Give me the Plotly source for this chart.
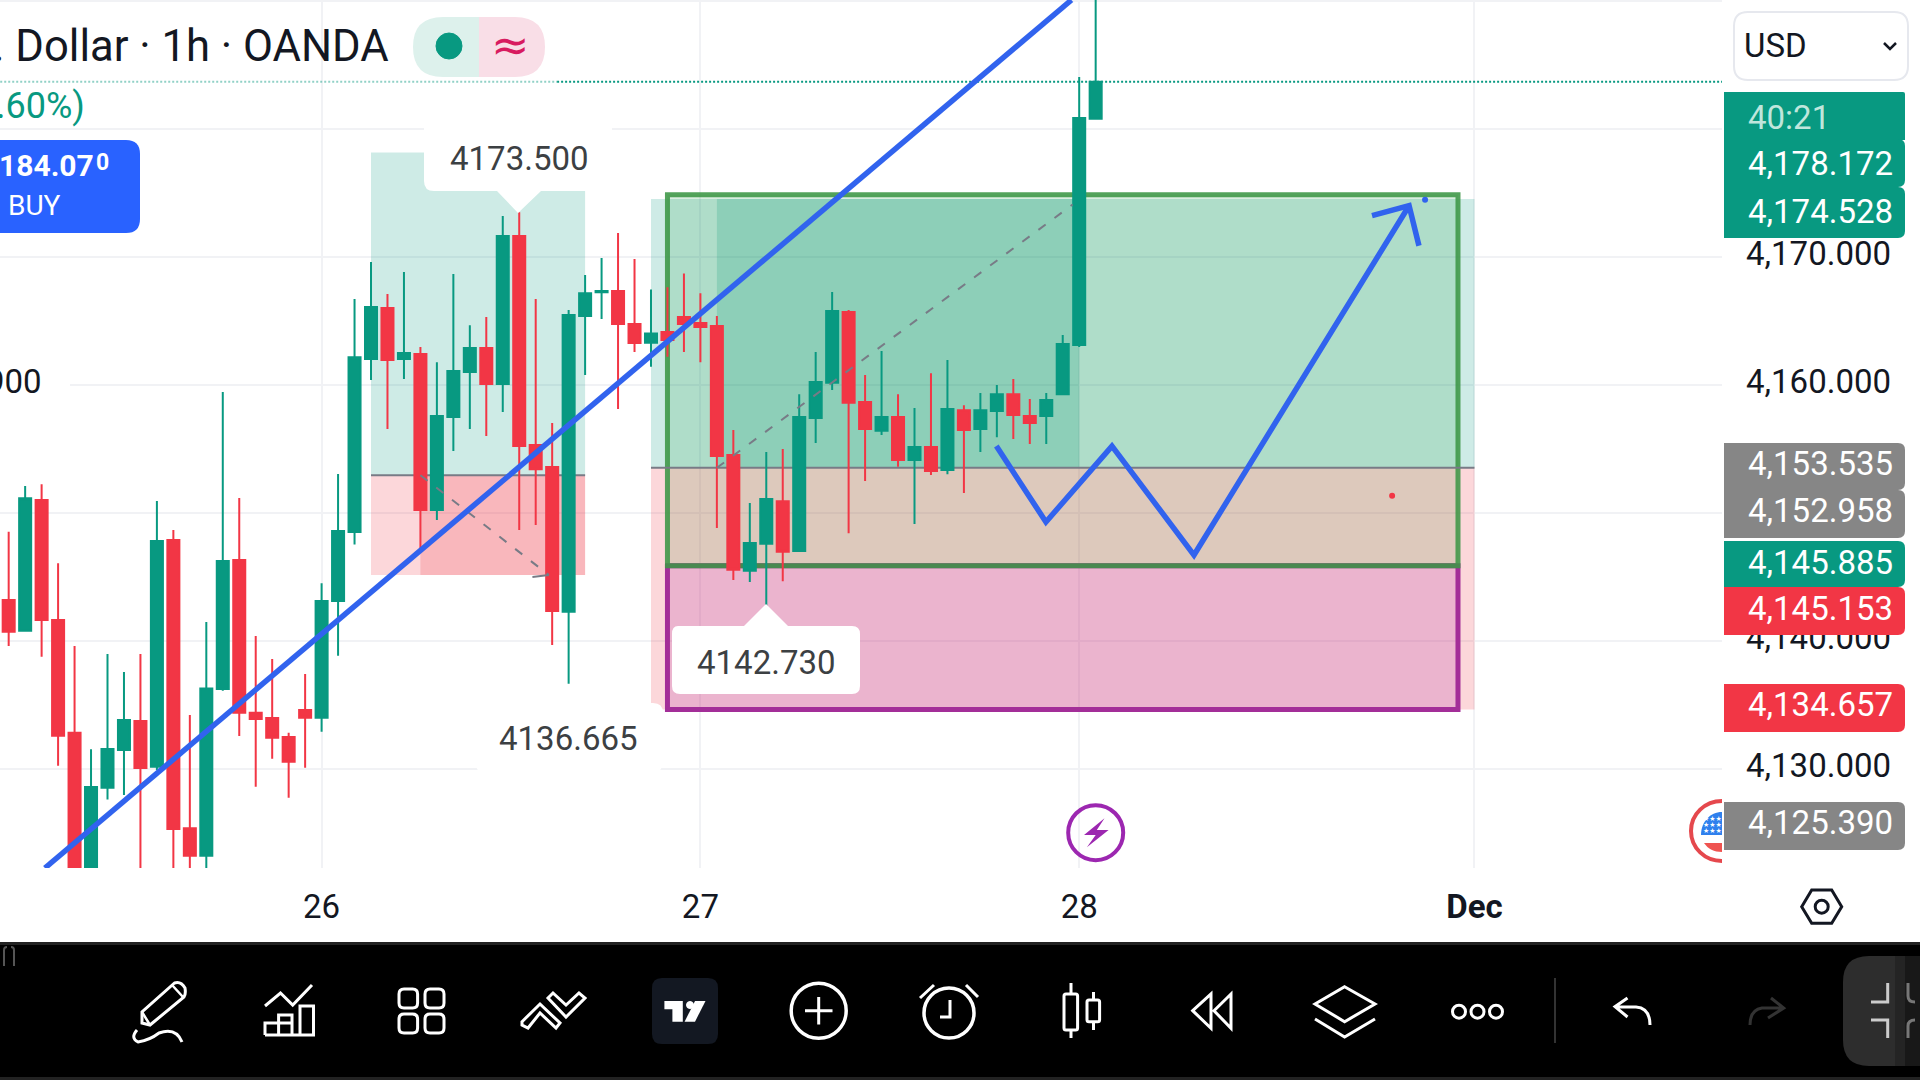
import plotly.graph_objects as go

# Hourly candles, one per trading slot; slot 0 is the session that opens the 26th
slots = list(range(-19, 48))
opens = [4143.21, 4140.81, 4151.02, 4141.64, 4132.84, 4120.00, 4128.54, 4131.49, 4133.75, 4130.18,
         4147.89, 4125.37, 4123.23, 4136.25, 4146.33, 4134.40, 4133.99, 4132.50, 4134.61, 4134.01,
         4143.13, 4148.51, 4162.03, 4166.01, 4162.03, 4162.42, 4150.23, 4157.50, 4161.01, 4162.89,
         4160.08, 4171.64, 4155.31, 4153.60, 4142.29, 4165.39, 4167.24, 4167.34, 4164.76, 4163.30,
         4164.14, 4165.31, 4164.84, 4164.61, 4154.53, 4145.49, 4147.60, 4150.93, 4147.03, 4157.42,
         4160.18, 4165.70, 4158.67, 4156.43, 4157.50, 4154.14, 4155.15, 4153.36, 4158.04, 4156.56,
         4157.97, 4159.29, 4157.58, 4157.58, 4159.29, 4163.13, 4180.80]
highs = [4148.54, 4152.11, 4152.24, 4146.07, 4139.61, 4131.54, 4138.99, 4137.58, 4138.99, 4150.94,
         4148.67, 4134.22, 4141.49, 4159.45, 4151.17, 4140.39, 4138.60, 4132.84, 4137.42, 4144.51,
         4153.05, 4166.72, 4169.61, 4167.11, 4168.83, 4162.97, 4161.79, 4168.67, 4164.68, 4165.31,
         4173.20, 4173.50, 4166.72, 4157.03, 4165.86, 4168.59, 4169.92, 4171.87, 4169.84, 4167.47,
         4167.63, 4168.72, 4167.18, 4165.39, 4156.48, 4150.78, 4154.76, 4155.00, 4159.29, 4162.58,
         4167.26, 4165.86, 4160.78, 4162.65, 4159.29, 4158.20, 4160.93, 4161.95, 4158.43, 4159.37,
         4160.00, 4160.47, 4158.90, 4159.37, 4163.90, 4184.06, 4192.00]
lows = [4139.61, 4140.81, 4138.78, 4130.26, 4119.00, 4119.00, 4127.63, 4127.97, 4119.00, 4129.92,
        4119.00, 4119.00, 4119.00, 4136.12, 4132.58, 4128.62, 4130.81, 4127.76, 4130.11, 4132.92,
        4138.86, 4147.55, 4160.39, 4156.56, 4160.47, 4147.24, 4149.45, 4154.84, 4156.56, 4156.01,
        4157.89, 4148.67, 4149.06, 4139.69, 4136.665, 4160.78, 4165.15, 4158.12, 4162.58, 4161.43,
        4162.21, 4162.58, 4161.79, 4148.83, 4144.76, 4144.61, 4142.73, 4144.68, 4146.95, 4155.47,
        4159.61, 4148.43, 4152.50, 4156.09, 4153.62, 4149.14, 4152.97, 4153.04, 4151.56, 4154.76,
        4155.93, 4155.78, 4155.39, 4155.39, 4159.29, 4162.97, 4180.80]
closes = [4140.73, 4151.15, 4141.64, 4132.61, 4120.00, 4128.60, 4131.56, 4133.83, 4130.08, 4147.81,
          4125.31, 4123.23, 4136.30, 4146.25, 4134.40, 4133.91, 4132.45, 4130.57, 4134.01, 4143.13,
          4148.60, 4162.18, 4166.09, 4161.95, 4162.50, 4150.23, 4157.58, 4161.09, 4162.89, 4160.08,
          4171.64, 4155.23, 4153.43, 4142.35, 4165.47, 4167.18, 4167.34, 4164.76, 4163.28, 4164.03,
          4163.51, 4164.76, 4164.53, 4154.45, 4145.57, 4147.65, 4151.09, 4146.98, 4157.50, 4160.23,
          4165.78, 4158.62, 4156.56, 4157.50, 4154.14, 4155.15, 4153.28, 4158.12, 4156.48, 4158.04,
          4159.29, 4157.65, 4157.03, 4158.83, 4163.20, 4180.86, 4183.70]

day_ticks = [0, 23, 46, 70]
day_labels = ["26", "27", "28", "<b>Dec</b>"]
price_ticks = [4190, 4180, 4170, 4160, 4150, 4140, 4130]
price_labels = ["", "4,180.000", "4,170.000", "4,160.000", "4,150.000", "4,140.000", "4,130.000"]

last_price = 4183.70

# Long-position tools: [left slot, right slot, top, entry, stop]
position_a = [3, 16, 4178.172, 4152.958, 4145.153]
position_b = [20, 70, 4174.528, 4153.535, 4134.657]
position_a_fill_from = 6
position_b_fill_from, position_b_fill_to = 24, 46

# Hand-drawn boxes: [left slot, right slot, top, bottom]
target_box = [21, 69, 4174.87, 4145.885]
stop_box = [21, 69, 4145.885, 4134.657]

trend_x = [-16.8, 45.53]
trend_y = [4122.27, 4190.08]
zigzag_x = [40.97, 43.98, 47.99, 52.97, 66.03]
zigzag_y = [4155.23, 4149.30, 4155.23, 4146.72, 4174.01]
arrow_x = [63.78, 66.03, 66.63]
arrow_y = [4173.23, 4174.01, 4170.88]
dash_a_x = [6, 13.8]
dash_a_y = [4152.958, 4145.153]
dash_a_head_x = [12.8, 13.8]
dash_a_head_y = [4145.0, 4145.153]
dash_b_x = [24, 45.6]
dash_b_y = [4153.535, 4174.1]

# Price tags on the right scale: (text, fill, top px, bottom px, text centre px)
tag_text = ["4,178.172", "4,174.528", "4,153.535", "4,152.958", "4,145.885", "4,145.153", "4,134.657", "4,125.390"]
tag_fill = ["#089981", "#089981", "#868686", "#868686", "#089981", "#F23645", "#F23645", "#868686"]
tag_top = [139, 187, 443, 490, 541, 587, 684, 802]
tag_bottom = [187, 238, 490, 538, 587, 635, 732, 850]
tag_mid = [163, 211, 463, 510, 562, 608, 704, 822]

GREEN = "#089981"
RED = "#F23645"
BLUE = "#3163EE"
INK = "#131722"
LABEL = "#3C4043"
GRID = "#F1F2F5"


def rounded(x0, y0, x1, y1, r, corners="tl tr br bl"):
    """Rounded rectangle as an SVG path in screen pixels."""
    c = corners.split()
    rtl = r if "tl" in c else 0
    rtr = r if "tr" in c else 0
    rbr = r if "br" in c else 0
    rbl = r if "bl" in c else 0
    return (f"M{x0 + rtl},{y0} L{x1 - rtr},{y0} Q{x1},{y0} {x1},{y0 + rtr} "
            f"L{x1},{y1 - rbr} Q{x1},{y1} {x1 - rbr},{y1} L{x0 + rbl},{y1} "
            f"Q{x0},{y1} {x0},{y1 - rbl} L{x0},{y0 + rtl} Q{x0},{y0} {x0 + rtl},{y0} Z")


def zone(x0, x1, y0, y1, fill):
    return dict(type="rect", xref="x", yref="y", x0=x0, x1=x1, y0=y0, y1=y1,
                fillcolor=fill, line_width=0, layer="between")


def hline(x0, x1, y):
    return dict(type="line", xref="x", yref="y", x0=x0, x1=x1, y0=y, y1=y,
                line=dict(color="#787B86", width=2), layer="between")


def frame(box, fill, edge):
    return dict(type="rect", xref="x", yref="y", x0=box[0], x1=box[1], y0=box[2], y1=box[3],
                fillcolor=fill, line=dict(color=edge, width=5), layer="between")


def chrome(path, fill="rgba(0,0,0,0)", stroke=None, width=3):
    shape = dict(type="path", xref="x2", yref="y2", path=path, fillcolor=fill, layer="above")
    shape["line"] = dict(color=stroke, width=width) if stroke else dict(width=0)
    return shape


def ring(cx, cy, r, stroke="#ffffff", width=3.5, fill="rgba(0,0,0,0)"):
    return dict(type="circle", xref="x2", yref="y2", x0=cx - r, x1=cx + r, y0=cy - r, y1=cy + r,
                fillcolor=fill, line=dict(color=stroke, width=width), layer="above")


def label(x, y, text, size=33, color=INK, anchor="center", family="Roboto"):
    return dict(xref="x2", yref="y2", x=x, y=y, text=text, showarrow=False, xanchor=anchor,
                yanchor="middle", font=dict(family=family, size=size, color=color))


fig = go.Figure()

fig.add_trace(go.Scatter(x=dash_a_x, y=dash_a_y, mode="lines", hoverinfo="skip",
                         line=dict(color="#787B86", width=2, dash="9px,11px")))
fig.add_trace(go.Scatter(x=dash_a_head_x, y=dash_a_head_y, mode="lines", hoverinfo="skip",
                         line=dict(color="#787B86", width=2)))
fig.add_trace(go.Scatter(x=dash_b_x, y=dash_b_y, mode="lines", hoverinfo="skip",
                         line=dict(color="#787B86", width=2, dash="9px,11px")))

# Last-price line: paler where it runs behind the legend
fig.add_trace(go.Scatter(x=[slots[0] - 1, 14.3], y=[last_price, last_price], mode="lines", hoverinfo="skip",
                         line=dict(color="rgba(8,153,129,0.45)", width=2, dash="2px,2px")))
fig.add_trace(go.Scatter(x=[14.3, 86], y=[last_price, last_price], mode="lines", hoverinfo="skip",
                         line=dict(color=GREEN, width=2, dash="2px,2px")))

fig.add_trace(go.Candlestick(
    x=slots, open=opens, high=highs, low=lows, close=closes, hoverinfo="skip",
    increasing=dict(line=dict(color=GREEN, width=2), fillcolor=GREEN),
    decreasing=dict(line=dict(color=RED, width=2), fillcolor=RED),
))

for xs, ys in ((trend_x, trend_y), (zigzag_x, zigzag_y), (arrow_x, arrow_y)):
    fig.add_trace(go.Scatter(x=xs, y=ys, mode="lines", hoverinfo="skip",
                             line=dict(color=BLUE, width=5.5)))
fig.add_trace(go.Scatter(x=[67.0], y=[4174.48], mode="markers", hoverinfo="skip",
                         marker=dict(color=BLUE, size=6)))
fig.add_trace(go.Scatter(x=[65.0], y=[4151.35], mode="markers", hoverinfo="skip",
                         marker=dict(color=RED, size=6)))

# Full-window pixel axes carry the surrounding interface
fig.add_trace(go.Scatter(x=[None], y=[None], xaxis="x2", yaxis="y2", hoverinfo="skip"))

TEAL_TINT = "rgba(8,153,129,0.2)"
RED_TINT = "rgba(242,54,69,0.2)"
shapes = [
    zone(position_a[0], position_a[1], position_a[2], position_a[3], TEAL_TINT),
    zone(position_a[0], position_a[1], position_a[3], position_a[4], RED_TINT),
    zone(position_a_fill_from, position_a[1], position_a[3], position_a[4], RED_TINT),
    hline(position_a[0], position_a[1], position_a[3]),
    zone(position_b[0], position_b[1], position_b[2], position_b[3], TEAL_TINT),
    zone(position_b[0], position_b[1], position_b[3], position_b[4], RED_TINT),
    zone(position_b_fill_from, position_b_fill_to, position_b[2], position_b[3], TEAL_TINT),
    zone(target_box[0], target_box[1], target_box[2], position_b[3], "rgba(0,142,37,0.15)"),
    zone(target_box[0], target_box[1], position_b[3], target_box[3], "rgba(102,145,68,0.2)"),
    frame(stop_box, "rgba(170,40,160,0.2)", "#A32E98"),
    frame(target_box, "rgba(0,0,0,0)", "rgba(60,150,70,0.88)"),
    hline(position_b[0], position_b[1], position_b[3]),
]

# White callouts for the high and low prices
shapes += [
    chrome("M424,120 L612,120 L612,191 L541,191 L518,213 L497,191 L434,191 Q424,191 424,181 Z", fill="#ffffff"),
    chrome("M678,626 L744,626 L766,604 L788,626 L852,626 Q860,626 860,634 L860,686 Q860,694 852,694 "
           "L680,694 Q672,694 672,686 L672,634 Q672,626 678,626 Z", fill="#ffffff"),
    chrome(rounded(475, 703, 663, 772, 10), fill="#ffffff"),
    chrome(rounded(0, 362, 70, 402, 1), fill="#ffffff"),
]

# Legend pill and order badge
shapes += [
    chrome("M479,17 L443,17 Q413,17 413,47 Q413,77 443,77 L479,77 Z", fill="#DDF1EC"),
    chrome("M479,17 L515,17 Q545,17 545,47 Q545,77 515,77 L479,77 Z", fill="#F9DEE7"),
    ring(449, 46, 13, stroke="#089981", width=1, fill="#089981"),
    chrome(rounded(-20, 140, 140, 233, 14), fill="#2962FF"),
    chrome(rounded(1734, 12, 1908, 80, 14), fill="#ffffff", stroke="#E6E8EE", width=2),
    chrome("M1884,43 L1890,49 L1896,43", stroke=INK, width=2.5),
]

# Scale tags
shapes.append(chrome(rounded(1724, 92, 1905, 140, 2, "tr"), fill="#089981"))
for fill, top, bottom in zip(tag_fill, tag_top, tag_bottom):
    shapes.append(chrome(rounded(1724, top, 1905, bottom, 7, "tr br"), fill=fill))

# Session break badge and calendar marker
shapes += [
    ring(1095.7, 832.7, 27.5, stroke="#9C27B0", width=4),
    chrome("M1104.5,818.3 L1084,835 L1095.7,835 L1086.9,847.3 L1108.6,830 L1096.8,830 Z", fill="#9C27B0"),
    chrome("M1722,801 C1705,801 1691,814 1691,831 C1691,848 1705,861 1722,861", stroke="#E5484D", width=4),
    chrome("M1722,812 C1710,812 1701,822 1701,835 L1722,835 Z", fill="#2F80ED"),
    chrome("M1704,843 L1722,843 L1722,852 C1714,852 1708,849 1704,843 Z", fill="#EF5350"),
    chrome("M1801.7,906.7 L1811.7,890 L1831.7,890 L1841.7,906.7 L1831.7,923.3 L1811.7,923.3 Z", stroke=INK, width=3),
    ring(1821.7, 906.7, 6.5, stroke=INK, width=3),
]

# Bottom toolbar
WHITE = "#ffffff"
shapes += [
    chrome("M0,942 L1920,942 L1920,1080 L0,1080 Z", fill="#000000"),
    chrome("M0,942 L1920,942 L1920,945 L0,945 Z", fill="#222222"),
    chrome("M0,1077 L1920,1077 L1920,1080 L0,1080 Z", fill="#222222"),
    chrome("M4,966 L4,950 Q4,947 7,947 M14,966 L14,950 Q14,947 11,947", stroke="#555555", width=2),
    # pen
    chrome("M142,1023 L142,1012 L174.5,983 Q181,981 185,988 Q186,994 184,997 L150,1025 Z", stroke=WHITE),
    chrome("M172,985 L183,997 M142,1012 L150,1025", stroke=WHITE, width=2.5),
    chrome("M137,1030 Q130,1038 138,1042 Q150,1040 159,1033 Q176,1027 182,1042", stroke=WHITE),
    # indicators
    chrome("M265,1006 L280.5,993 L292.7,1005 L312,985", stroke=WHITE),
    chrome("M265,1035 L313.5,1035 L313.5,1006 L300,1006 L300,1035 M292,1035 L292,1023 L278.6,1023 "
           "L278.6,1015 L292,1015 L292,1023 M278.6,1023 L265,1023 L265,1035 M278.6,1023 L278.6,1035", stroke=WHITE),
    # templates
    chrome(rounded(399, 989, 417.6, 1008, 5), stroke=WHITE),
    chrome(rounded(425, 989, 444, 1008, 5), stroke=WHITE),
    chrome(rounded(399, 1014, 417.6, 1033, 5), stroke=WHITE),
    chrome(rounded(425, 1014, 444, 1033, 5), stroke=WHITE),
    # patterns
    chrome("M522,1021.7 L540,1004 L560,1023 L556,1028 L540,1013 L528,1028 L522,1025 Z", stroke=WHITE),
    chrome("M548,998 L553,993 L566,1005 L579,993 L585,998 L566,1017 Z", stroke=WHITE),
    # logo tile
    chrome(rounded(652, 978, 718, 1044, 10), fill="#131822"),
    chrome("M664.4,1001 L682.8,1001 L682.8,1021.7 L672.4,1021.7 L672.4,1009.3 L664.4,1009.3 Z", fill=WHITE),
    ring(690, 1005, 3.5, stroke=WHITE, width=1, fill=WHITE),
    chrome("M705.5,1001 L695,1021.7 L684.6,1021.7 L695,1001 Z", fill=WHITE),
    # add
    ring(818.7, 1010.7, 27.5),
    chrome("M818.7,997 L818.7,1024.5 M805,1010.7 L832.5,1010.7", stroke=WHITE),
    # alert
    ring(949, 1013, 25),
    chrome("M950,1000 L950,1017 L940,1017 M920,998 L934,985 M978,997 L966,985", stroke=WHITE),
    # bar style
    chrome(rounded(1064, 994, 1077.6, 1030, 2), stroke=WHITE),
    chrome("M1071,983 L1071,994 M1071,1030 L1071,1038", stroke=WHITE),
    chrome(rounded(1087, 1000, 1099.6, 1021.7, 2), stroke=WHITE),
    chrome("M1093.5,992 L1093.5,1000 M1093.5,1021.7 L1093.5,1030", stroke=WHITE),
    # replay
    chrome("M1192.7,1010.7 L1211,994 L1211,1028.3 Z M1214,1010.7 L1231,994 L1231,1028.3 Z", stroke=WHITE),
    # layers
    chrome("M1344.6,986.7 L1375,1004 L1344.6,1021.7 L1315,1004 Z", stroke=WHITE),
    chrome("M1315,1019 L1344.6,1037 L1375,1019", stroke=WHITE),
    # more
    ring(1459, 1011.7, 6.5, width=3), ring(1477.5, 1011.7, 6.5, width=3), ring(1496, 1011.7, 6.5, width=3),
    chrome("M1555,978 L1555,1043", stroke="#333333", width=2),
    # undo and redo
    chrome("M1627.5,998 L1615,1006.7 L1627.5,1017 M1615,1006.7 L1636,1007 Q1650,1008 1650,1025", stroke=WHITE),
    chrome("M1771,998 L1783.7,1008 L1768,1018 M1783.7,1008 L1762,1008 Q1750,1010 1750,1025", stroke="#333333"),
    # fullscreen tile, fading out at the window edge
    chrome("M1920,956 L1869,956 Q1843,956 1843,982 L1843,1040 Q1843,1066 1869,1066 L1920,1066 Z", fill="#2D2D2D"),
    chrome("M1895,956 L1905,956 L1905,1066 L1895,1066 Z", fill="rgba(0,0,0,0.2)"),
    chrome("M1905,956 L1920,956 L1920,1066 L1905,1066 Z", fill="rgba(0,0,0,0.45)"),
    chrome("M1887.7,983 L1887.7,1002 L1871,1002 M1871,1020 L1887.7,1020 L1887.7,1038", stroke="#CCCCCC"),
    chrome("M1908,983 L1908,996 Q1908,1002 1915,1002 M1915,1020 Q1908,1020 1908,1026 L1908,1038", stroke="#777777"),
]

annotations = [
    label(391, 46, ". Dollar · 1h · OANDA", size=43.6, anchor="right"),
    label(87, 106, ".60%)", size=36, color=GREEN, anchor="right"),
    label(510, 45, "≈", size=46, color="#D81B60", family="DejaVu Sans"),
    label(96, 165, "<b>184.07</b>", size=30, color=WHITE, anchor="right"),
    label(94, 162, "<b>0</b>", size=23, color=WHITE, anchor="left"),
    label(5.5, 205, "BUY", size=28, color=WHITE, anchor="left"),
    label(1741.5, 45, "USD", size=33, anchor="left"),
    label(1746, 117, "40:21", color="#BFE6DC", anchor="left"),
    label(519, 158, "4173.500", color=LABEL),
    label(766, 662, "4142.730", color=LABEL),
    label(568, 738, "4136.665", color=LABEL),
    label(44, 381, "900", anchor="right"),
    label(1712, 819, "★★★", size=7, color=WHITE, family="DejaVu Sans"),
    label(1712, 825, "★★★", size=7, color=WHITE, family="DejaVu Sans"),
    label(1712, 831, "★★★", size=7, color=WHITE, family="DejaVu Sans"),
]
for text, mid in zip(tag_text, tag_mid):
    annotations.append(label(1746, mid, text, color=WHITE, anchor="left"))

fig.update_layout(
    width=1920, height=1080, autosize=False,
    margin=dict(l=0, r=0, t=0, b=0, pad=0),
    paper_bgcolor="#ffffff", plot_bgcolor="rgba(0,0,0,0)",
    showlegend=False, boxgap=0.27, boxgroupgap=0, hovermode=False,
    shapes=shapes, annotations=annotations,
    xaxis=dict(
        domain=[0, 1722 / 1920], range=[-19.527, 85.03], anchor="y",
        tickmode="array", tickvals=day_ticks, ticktext=day_labels,
        tickfont=dict(family="Roboto", size=33, color=INK), ticklen=0, ticklabelstandoff=16,
        showgrid=True, gridcolor=GRID, gridwidth=2, zeroline=False, showline=False,
        rangeslider=dict(visible=False), fixedrange=True,
    ),
    yaxis=dict(
        domain=[1 - 868 / 1080, 1], range=[4122.27, 4190.08], anchor="x", side="right",
        tickmode="array", tickvals=price_ticks, ticktext=price_labels,
        tickfont=dict(family="Roboto", size=33, color=INK), ticklen=0, ticklabelstandoff=23,
        ticklabelshift=-4,
        showgrid=True, gridcolor=GRID, gridwidth=2, zeroline=False, showline=False, fixedrange=True,
    ),
    xaxis2=dict(domain=[0, 1], range=[0, 1920], anchor="y2", visible=False, fixedrange=True),
    yaxis2=dict(domain=[0, 1], range=[1080, 0], anchor="x2", visible=False, fixedrange=True),
)

fig.write_html("out.html", config=dict(displayModeBar=False))
